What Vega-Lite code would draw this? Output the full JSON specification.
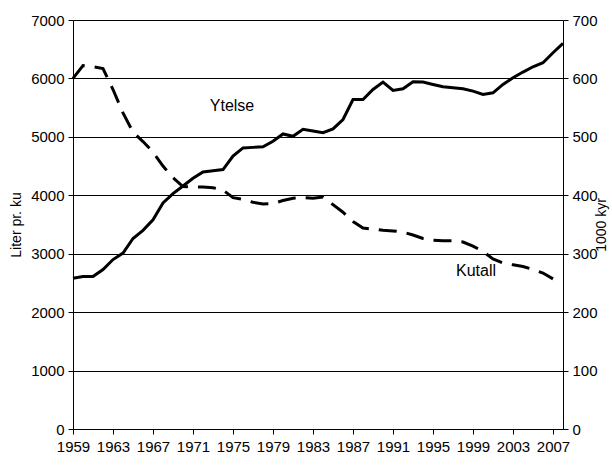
{
  "$schema": "https://vega.github.io/schema/vega-lite/v6.json",
  "width": 490,
  "height": 409,
  "autosize": {"type": "none"},
  "padding": {"left": 73, "top": 20, "right": 49, "bottom": 36},
  "background": "white",
  "config": {
    "view": {"stroke": null},
    "font": "Liberation Sans",
    "axis": {
      "domainColor": "black",
      "tickColor": "black",
      "labelColor": "black",
      "titleColor": "black",
      "labelFontSize": 15,
      "titleFontSize": 14,
      "titleFontWeight": "normal",
      "tickSize": 5,
      "labelFont": "Liberation Sans",
      "titleFont": "Liberation Sans"
    }
  },
  "data": {
    "values": [
      {"year": 1959, "Ytelse": 2580, "Kutall": 600},
      {"year": 1960, "Ytelse": 2610, "Kutall": 622},
      {"year": 1961, "Ytelse": 2610, "Kutall": 620},
      {"year": 1962, "Ytelse": 2730, "Kutall": 617},
      {"year": 1963, "Ytelse": 2900, "Kutall": 581},
      {"year": 1964, "Ytelse": 3010, "Kutall": 541},
      {"year": 1965, "Ytelse": 3260, "Kutall": 508},
      {"year": 1966, "Ytelse": 3400, "Kutall": 492},
      {"year": 1967, "Ytelse": 3580, "Kutall": 474},
      {"year": 1968, "Ytelse": 3870, "Kutall": 450},
      {"year": 1969, "Ytelse": 4030, "Kutall": 430},
      {"year": 1970, "Ytelse": 4160, "Kutall": 415},
      {"year": 1971, "Ytelse": 4290, "Kutall": 414},
      {"year": 1972, "Ytelse": 4400, "Kutall": 414},
      {"year": 1973, "Ytelse": 4420, "Kutall": 413},
      {"year": 1974, "Ytelse": 4440, "Kutall": 409},
      {"year": 1975, "Ytelse": 4670, "Kutall": 396},
      {"year": 1976, "Ytelse": 4810, "Kutall": 393},
      {"year": 1977, "Ytelse": 4820, "Kutall": 388},
      {"year": 1978, "Ytelse": 4830, "Kutall": 385},
      {"year": 1979, "Ytelse": 4925, "Kutall": 386},
      {"year": 1980, "Ytelse": 5050, "Kutall": 391},
      {"year": 1981, "Ytelse": 5010, "Kutall": 395},
      {"year": 1982, "Ytelse": 5130, "Kutall": 396},
      {"year": 1983, "Ytelse": 5100, "Kutall": 395},
      {"year": 1984, "Ytelse": 5070, "Kutall": 397},
      {"year": 1985, "Ytelse": 5137, "Kutall": 384},
      {"year": 1986, "Ytelse": 5297, "Kutall": 371},
      {"year": 1987, "Ytelse": 5640, "Kutall": 355},
      {"year": 1988, "Ytelse": 5640, "Kutall": 344},
      {"year": 1989, "Ytelse": 5811, "Kutall": 342},
      {"year": 1990, "Ytelse": 5937, "Kutall": 340},
      {"year": 1991, "Ytelse": 5794, "Kutall": 339},
      {"year": 1992, "Ytelse": 5823, "Kutall": 337},
      {"year": 1993, "Ytelse": 5943, "Kutall": 332},
      {"year": 1994, "Ytelse": 5937, "Kutall": 326},
      {"year": 1995, "Ytelse": 5897, "Kutall": 323},
      {"year": 1996, "Ytelse": 5857, "Kutall": 322},
      {"year": 1997, "Ytelse": 5840, "Kutall": 322},
      {"year": 1998, "Ytelse": 5823, "Kutall": 320},
      {"year": 1999, "Ytelse": 5783, "Kutall": 313},
      {"year": 2000, "Ytelse": 5726, "Kutall": 304},
      {"year": 2001, "Ytelse": 5754, "Kutall": 291},
      {"year": 2002, "Ytelse": 5897, "Kutall": 284},
      {"year": 2003, "Ytelse": 6011, "Kutall": 281},
      {"year": 2004, "Ytelse": 6109, "Kutall": 278},
      {"year": 2005, "Ytelse": 6200, "Kutall": 273},
      {"year": 2006, "Ytelse": 6269, "Kutall": 267},
      {"year": 2007, "Ytelse": 6440, "Kutall": 257},
      {"year": 2008, "Ytelse": 6600}
    ]
  },
  "encoding": {
    "x": {
      "field": "year",
      "type": "quantitative",
      "scale": {"domain": [1959, 2008], "nice": false, "zero": false},
      "axis": {
        "values": [1959, 1963, 1967, 1971, 1975, 1979, 1983, 1987, 1991, 1995, 1999, 2003, 2007],
        "format": "d",
        "title": null,
        "grid": false,
        "labelPadding": 5,
        "labelFlush": false,
        "labelOverlap": false
      }
    }
  },
  "layer": [
    {
      "encoding": {
        "y": {
          "field": "Ytelse",
          "type": "quantitative",
          "scale": {"domain": [0, 7000], "nice": false},
          "axis": {
            "title": "Liter pr. ku",
            "format": "d",
            "values": [0, 1000, 2000, 3000, 4000, 5000, 6000, 7000],
            "grid": true,
            "gridColor": "black",
            "gridOpacity": 1,
            "gridWidth": 1,
            "labelPadding": 4,
            "titlePadding": 7
          }
        }
      },
      "layer": [
        {"mark": {"type": "line", "color": "black", "strokeWidth": 3}},
        {
          "data": {"values": [{"year": 1974.9, "Ytelse": 5520, "label": "Ytelse"}]},
          "mark": {"type": "text", "fontSize": 16, "color": "black", "align": "center", "baseline": "middle"},
          "encoding": {"text": {"field": "label"}}
        }
      ]
    },
    {
      "encoding": {
        "y": {
          "field": "Kutall",
          "type": "quantitative",
          "scale": {"domain": [0, 700], "nice": false},
          "axis": {
            "orient": "right",
            "title": "1000 kyr",
            "titleAngle": 270,
            "titleBaseline": "top",
            "format": "d",
            "values": [0, 100, 200, 300, 400, 500, 600, 700],
            "grid": false,
            "labelPadding": 4,
            "titlePadding": -3
          }
        }
      },
      "layer": [
        {"mark": {"type": "line", "color": "black", "strokeWidth": 3, "strokeDash": [18, 10]}},
        {
          "data": {"values": [{"year": 1999.3, "Kutall": 271, "label": "Kutall"}]},
          "mark": {"type": "text", "fontSize": 16, "color": "black", "align": "center", "baseline": "middle"},
          "encoding": {"text": {"field": "label"}}
        }
      ]
    }
  ],
  "resolve": {"scale": {"y": "independent"}}
}
